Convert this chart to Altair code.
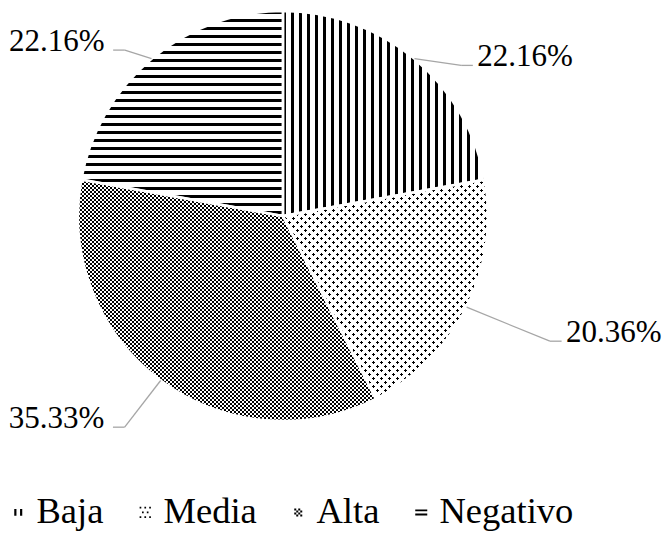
import math

import altair as alt
import pandas as pd

# ---- data -------------------------------------------------------------
categories = ["Baja", "Media", "Alta", "Negativo"]
shares = [22.16, 20.36, 35.33, 22.16]
share_labels = ["22.16%", "20.36%", "35.33%", "22.16%"]

# ---- label layout: elbow of each leader line, offset in px from the rim point
elbow_dx = [46.7, 83.3, -36.0, -26.7]
elbow_dy = [-6.7, -34.0, -46.7, 8.6]

W, H = 566, 432          # plot area; the pie sits at its centre
R = 205                  # pie radius in px
TAIL = 11.7              # horizontal tail of each leader line
FONT = "Liberation Serif"
CLEAR = "rgba(255,255,255,0)"


def slice_box(i):
    """Pixel width/height of the bounding box of slice i (clockwise from 12 o'clock)."""
    total = sum(shares)
    a0 = 2 * math.pi * sum(shares[:i]) / total
    a1 = 2 * math.pi * sum(shares[: i + 1]) / total
    pts = [(0.0, 0.0), (math.sin(a0), math.cos(a0)), (math.sin(a1), math.cos(a1))]
    for q in range(5):
        a = q * math.pi / 2
        if a0 < a < a1:
            pts.append((math.sin(a), math.cos(a)))
    xs = [p[0] for p in pts]
    ys = [p[1] for p in pts]
    return R * (max(xs) - min(xs)), R * (max(ys) - min(ys))


def bands(extent, period, duty, ink, gap, x1, y1, x2, y2):
    """Linear gradient of hard-edged bands: `ink` for `duty` of every `period` px."""
    n = extent / period
    stops = []
    k = 0
    while k / n < 1:
        a = k / n
        b = min((k + duty) / n, 1.0)
        c = min((k + 1) / n, 1.0)
        stops += [
            {"offset": round(a, 5), "color": ink},
            {"offset": round(b, 5), "color": ink},
            {"offset": round(b, 5), "color": gap},
            {"offset": round(c, 5), "color": gap},
        ]
        k += 1
    return {"gradient": "linear", "x1": x1, "y1": y1, "x2": x2, "y2": y2, "stops": stops}


def vertical_lines(i, period, duty):
    w, h = slice_box(i)
    return bands(w, period, duty, "black", "white", 0, 0, 1, 0)


def horizontal_lines(i, period, duty):
    w, h = slice_box(i)
    return bands(h, period, duty, "black", "white", 0, 0, 0, 1)


def diagonal_masks(i, period, duty):
    """Two crossing 45-degree white masks; black shows through where both are clear."""
    w, h = slice_box(i)
    k = (w + h) * w / (w * w + h * h)
    down = bands(w + h, period, duty, CLEAR, "white", 0, 0, k, k * h / w)
    up = bands(w + h, period, duty, CLEAR, "white", 1, 0, 1 - k, k * h / w)
    return down, up


baja_fill = vertical_lines(0, 8, 0.33)
neg_fill = horizontal_lines(3, 8, 0.33)
media_a, media_b = diagonal_masks(1, 8, 0.35)
alta_a, alta_b = diagonal_masks(2, 4, 0.75)


def by_cat(mapping, default):
    return alt.FillValue(
        value=default,
        condition=[{"test": f"datum.cat === '{k}'", "value": v} for k, v in mapping.items()],
    )


def sq(cx, cy, s):
    h = s / 2
    return f"M{cx - h:.3f},{cy - h:.3f}H{cx + h:.3f}V{cy + h:.3f}H{cx - h:.3f}Z"


# legend keys as small filled paths (1 unit = half the symbol side)
key_baja = "M-1,-0.85H-0.45V0.85H-1Z M0.45,-0.85H1V0.85H0.45Z"
key_media = " ".join(
    [sq(x, -1.2, 0.42) for x in (-1.2, 0.0, 1.2)]
    + [sq(x, 0.0, 0.42) for x in (-0.6, 0.6)]
    + [sq(x, 1.2, 0.42) for x in (-1.2, 0.0, 1.2)]
)
key_alta = " ".join(
    sq(-0.75 + 0.5 * i, -0.75 + 0.5 * j, 0.5)
    for i in range(4) for j in range(4) if (i + j) % 2 == 0
)
key_neg = "M-1.5,-0.75H1.5V-0.3H-1.5Z M-1.5,0.3H1.5V0.75H-1.5Z"
key_paths = [key_baja, key_media, key_alta, key_neg]

df = pd.DataFrame({
    "cat": categories,
    "share": shares,
    "label": share_labels,
    "idx": list(range(len(categories))),
    "edx": elbow_dx,
    "edy": elbow_dy,
})

# ---- pie: three stacked copies of the same arcs build the hatch patterns
pie = alt.Chart(df).encode(
    theta=alt.Theta("share:Q", stack=True),
    order=alt.Order("idx:Q"),
)
arc1 = pie.mark_arc(radius=R).encode(
    fill=by_cat({"Baja": baja_fill, "Negativo": neg_fill}, "black"))
arc2 = pie.mark_arc(radius=R).encode(
    fill=by_cat({"Media": media_a, "Alta": alta_a}, "transparent"))
arc3 = pie.mark_arc(radius=R, stroke="white", strokeWidth=2.5).encode(
    fill=by_cat({"Media": media_b, "Alta": alta_b}, "transparent"))

# ---- leader lines and value labels (px offsets from the pie centre, y up)
geo = alt.Chart(df).transform_window(
    cum="sum(share)", sort=[alt.SortField("idx")]
).transform_joinaggregate(
    total="sum(share)"
).transform_calculate(
    mid="2 * PI * (datum.cum - datum.share / 2) / datum.total",
    sx=f"{R} * sin(datum.mid)",
    sy=f"{R} * cos(datum.mid)",
    ex="datum.sx + datum.edx",
    ey="datum.sy + datum.edy",
    tx=f"datum.ex + (datum.ex >= 0 ? 1 : -1) * {TAIL}",
)
XS = alt.Scale(domain=[-W / 2, W / 2], nice=False, zero=False)
YS = alt.Scale(domain=[-H / 2, H / 2], nice=False, zero=False)

lead1 = geo.mark_rule(color="#a6a6a6", strokeWidth=1.3).encode(
    x=alt.X("sx:Q", scale=XS, axis=None),
    y=alt.Y("sy:Q", scale=YS, axis=None),
    x2="ex:Q", y2="ey:Q",
)
lead2 = geo.mark_rule(color="#a6a6a6", strokeWidth=1.3).encode(
    x=alt.X("ex:Q", scale=XS, axis=None),
    y=alt.Y("ey:Q", scale=YS, axis=None),
    x2="tx:Q", y2="ey:Q",
)
text_right = geo.transform_filter("datum.ex >= 0").mark_text(
    align="left", baseline="alphabetic", dx=4.5, dy=1,
    font=FONT, fontSize=31, color="black",
).encode(
    x=alt.X("tx:Q", scale=XS, axis=None),
    y=alt.Y("ey:Q", scale=YS, axis=None),
    text="label:N",
)
text_left = geo.transform_filter("datum.ex < 0").mark_text(
    align="right", baseline="alphabetic", dx=-8.5, dy=1,
    font=FONT, fontSize=31, color="black",
).encode(
    x=alt.X("tx:Q", scale=XS, axis=None),
    y=alt.Y("ey:Q", scale=YS, axis=None),
    text="label:N",
)

# ---- legend carried by an invisible point layer
keys = alt.Chart(df).mark_point(filled=True, opacity=0, color="black").encode(
    shape=alt.Shape(
        "cat:N",
        scale=alt.Scale(domain=categories, range=key_paths),
        legend=alt.Legend(
            title=None, orient="none", legendX=0, legendY=494,
            direction="horizontal", padding=0,
            labelFont=FONT, labelFontSize=36.5, labelColor="black",
            labelOffset=0, labelLimit=400, columnPadding=23,
            symbolSize=64, symbolOpacity=1, symbolStrokeWidth=0,
            symbolFillColor="black",
        ),
    )
)

chart = alt.layer(
    arc1, arc2, arc3, lead1, lead2, text_right, text_left, keys
).properties(
    width=W, height=H, padding=0, background="white"
).configure_view(stroke=None)

chart.save("out.html", embed_options={"renderer": "svg", "actions": False})
